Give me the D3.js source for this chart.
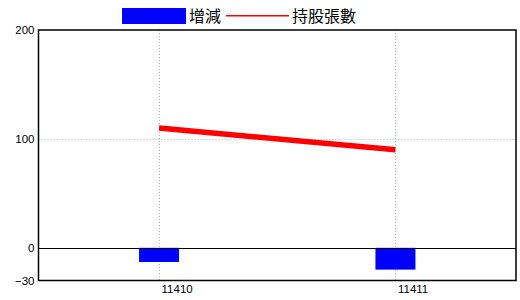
<!DOCTYPE html>
<html><head><meta charset="utf-8">
<script src="https://cdn.jsdelivr.net/npm/d3@7"></script>
<style>
html,body{margin:0;padding:0;background:#fff;}
svg{display:block;}
text{font-family:"Noto Sans CJK TC","DejaVu Sans",sans-serif;fill:#000;}
</style></head>
<body>
<svg id="c" width="520" height="300"></svg>
<script>
const categories = ["11410", "11411"];
const changeValues = [-13, -20];
const holdingValues = [110, 90];
const yTicks = [-30, 0, 100, 200];
const legendLabels = ["增減", "持股張數"];

const svg = d3.select("#c");
const pL = 38.5, pR = 516, pT = 30, pB = 280.5;

const x = d3.scalePoint().domain(categories).range([pL, pR]).padding(0.51);
const y = d3.scaleLinear().domain([-30, 200]).range([pB, pT]);

// grid lines
const grid = svg.append("g").attr("stroke", "#a8b4c4").attr("stroke-width", 1).attr("stroke-dasharray", "1,2");
grid.selectAll("line.v").data(categories).join("line")
  .attr("x1", d => Math.round(x(d)) + 0.5).attr("x2", d => Math.round(x(d)) + 0.5)
  .attr("y1", pT).attr("y2", pB);
grid.selectAll("line.h").data(yTicks.filter(t => t !== 0 && t !== 200 && t !== -30)).join("line")
  .attr("x1", pL).attr("x2", pR)
  .attr("y1", d => Math.round(y(d)) + 0.5).attr("y2", d => Math.round(y(d)) + 0.5);

// bars
const bw = 40;
svg.append("g").selectAll("rect").data(categories).join("rect")
  .attr("x", d => x(d) - bw / 2)
  .attr("y", (d, i) => y(Math.max(0, changeValues[i])))
  .attr("width", bw)
  .attr("height", (d, i) => Math.abs(y(changeValues[i]) - y(0)))
  .attr("fill", "#0000ff");

// zero line
svg.append("line").attr("x1", pL).attr("x2", pR)
  .attr("y1", Math.round(y(0)) + 0.5).attr("y2", Math.round(y(0)) + 0.5)
  .attr("stroke", "#000").attr("stroke-width", 1);

// line series
const line = d3.line().x((d, i) => x(categories[i])).y(d => y(d));
svg.append("path").datum(holdingValues).attr("d", line)
  .attr("fill", "none").attr("stroke", "#ff0000").attr("stroke-width", 5.5);

// frame
svg.append("rect").attr("x", pL).attr("y", pT).attr("width", pR - pL).attr("height", pB - pT)
  .attr("fill", "none").attr("stroke", "#000").attr("stroke-width", 1.5);

// y axis labels
const yAxis = d3.axisLeft(y).tickValues(yTicks).tickSize(0).tickPadding(4);
const ya = svg.append("g").attr("transform", `translate(${pL},0)`).call(yAxis);
ya.select(".domain").remove();
ya.selectAll("text").style("font-size", "11.5px").style("font-family", "'Liberation Sans',sans-serif");

// x axis labels
const xAxis = d3.axisBottom(x).tickSize(0).tickPadding(4);
const xa = svg.append("g").attr("transform", `translate(0,${pB})`).call(xAxis);
xa.select(".domain").remove();
xa.selectAll("text").attr("text-anchor", "start").attr("dx", 2)
  .style("font-size", "11.5px").style("font-family", "'Liberation Sans',sans-serif");

// legend
const lg = svg.append("g");
lg.append("rect").attr("x", 122).attr("y", 8).attr("width", 64).attr("height", 16).attr("fill", "#0000ff");
lg.append("text").attr("x", 189).attr("y", 22).style("font-size", "16px").text(legendLabels[0]);
lg.append("rect").attr("x", 226).attr("y", 15).attr("width", 63).attr("height", 1.5).attr("fill", "#ff0000");
lg.append("text").attr("x", 292).attr("y", 22).style("font-size", "16px").text(legendLabels[1]);
</script>
</body></html>
